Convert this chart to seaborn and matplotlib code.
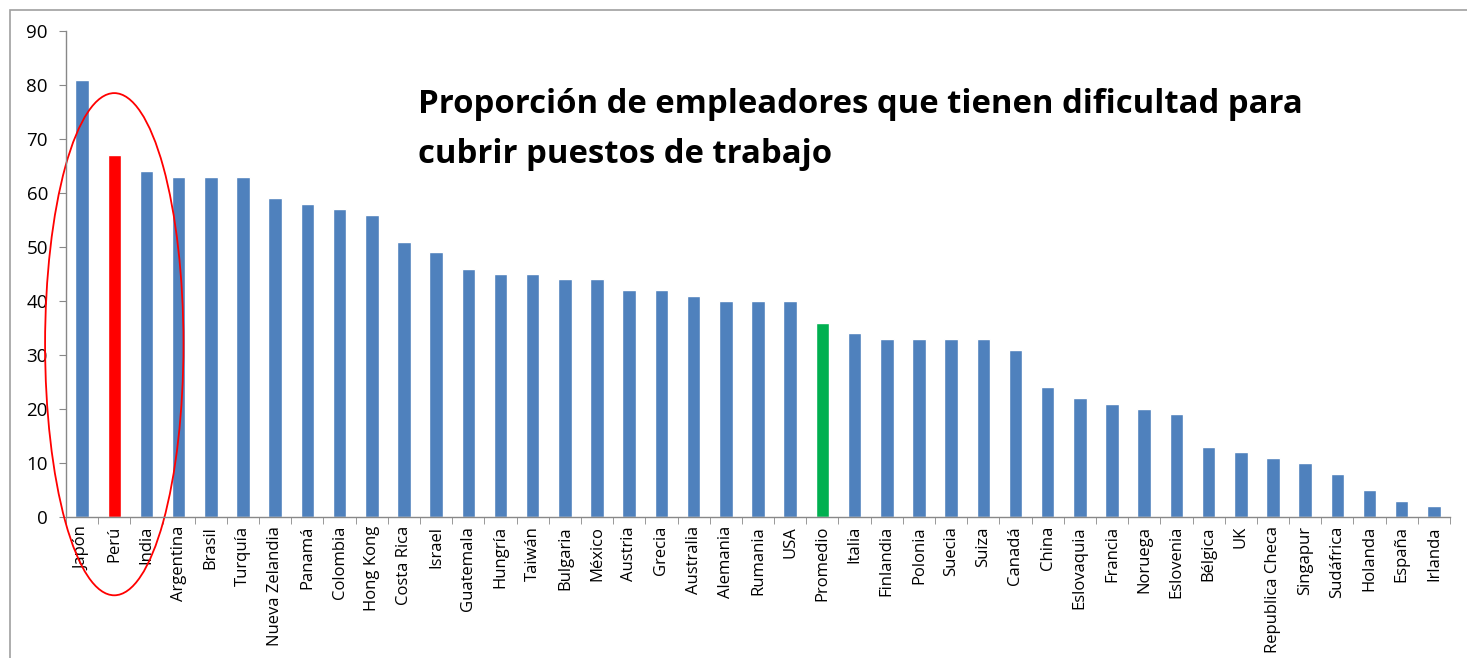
import matplotlib
matplotlib.use('Agg')
import matplotlib.pyplot as plt
import seaborn as sns
import pandas as pd
from matplotlib.patches import Ellipse, Rectangle

paises = ['Japón', 'Perú', 'India', 'Argentina', 'Brasil', 'Turquía', 'Nueva Zelandia',
          'Panamá', 'Colombia', 'Hong Kong', 'Costa Rica', 'Israel', 'Guatemala', 'Hungría',
          'Taiwán', 'Bulgaria', 'México', 'Austria', 'Grecia', 'Australia', 'Alemania',
          'Rumania', 'USA', 'Promedio', 'Italia', 'Finlandia', 'Polonia', 'Suecia', 'Suiza',
          'Canadá', 'China', 'Eslovaquia', 'Francia', 'Noruega', 'Eslovenia', 'Bélgica', 'UK',
          'Republica Checa', 'Singapur', 'Sudáfrica', 'Holanda', 'España', 'Irlanda']
valores = [81, 67, 64, 63, 63, 63, 59, 58, 57, 56, 51, 49, 46, 45, 45, 44, 44, 42, 42, 41,
           40, 40, 40, 36, 34, 33, 33, 33, 33, 31, 24, 22, 21, 20, 19, 13, 12, 11, 10, 8, 5, 3, 2]
titulo = 'Proporción de empleadores que tienen dificultad para\ncubrir puestos de trabajo'

df = pd.DataFrame({'pais': paises, 'valor': valores})
colores = {p: '#4F81BD' for p in paises}
colores['Perú'] = '#FF0000'
colores['Promedio'] = '#00B050'

sns.set_style('white')
plt.rcParams['font.family'] = ['Open Sans', 'DejaVu Sans']

fig = plt.figure(figsize=(14.67, 6.58), dpi=100)
ax = fig.add_axes([66 / 1467, 1 - 517 / 658, (1450 - 66) / 1467, (517 - 31) / 658])

sns.barplot(data=df, x='pais', y='valor', hue='pais', palette=colores, legend=False,
            width=0.42, saturation=1, ax=ax)

ax.set_xlim(-0.5, len(paises) - 0.5)
ax.set_ylim(0, 90)
ax.set_yticks(range(0, 91, 10))
ax.set_xlabel('')
ax.set_ylabel('')
for s in ['top', 'right']:
    ax.spines[s].set_visible(False)
for s in ['left', 'bottom']:
    ax.spines[s].set_color('#888888')
    ax.spines[s].set_linewidth(1)

ax.tick_params(axis='y', left=True, length=5, color='#888888', labelsize=13.5, pad=8,
               labelcolor='black')
ax.tick_params(axis='x', bottom=False, labelsize=12, rotation=90, pad=3, labelcolor='black')
ax.set_xticks([i - 0.5 for i in range(len(paises) + 1)], minor=True)
ax.tick_params(axis='x', which='minor', bottom=True, length=5, color='#888888')

ax.text(0.254, 0.883, titulo, transform=ax.transAxes, fontsize=23.7, fontweight='bold',
        va='top', ha='left', linespacing=1.68, color='black')

ax.add_patch(Ellipse((1.0, 32.0), 4.3, 93.0, fill=False, edgecolor='#FF0000',
                     linewidth=1.3, clip_on=False))

fig.patches.append(Rectangle((10 / 1467, -0.1), 1.2, 1 - 10 / 658 + 0.1,
                             transform=fig.transFigure, fill=False,
                             edgecolor='#A0A0A0', linewidth=1.2))

fig.savefig('out.png', dpi=100)
